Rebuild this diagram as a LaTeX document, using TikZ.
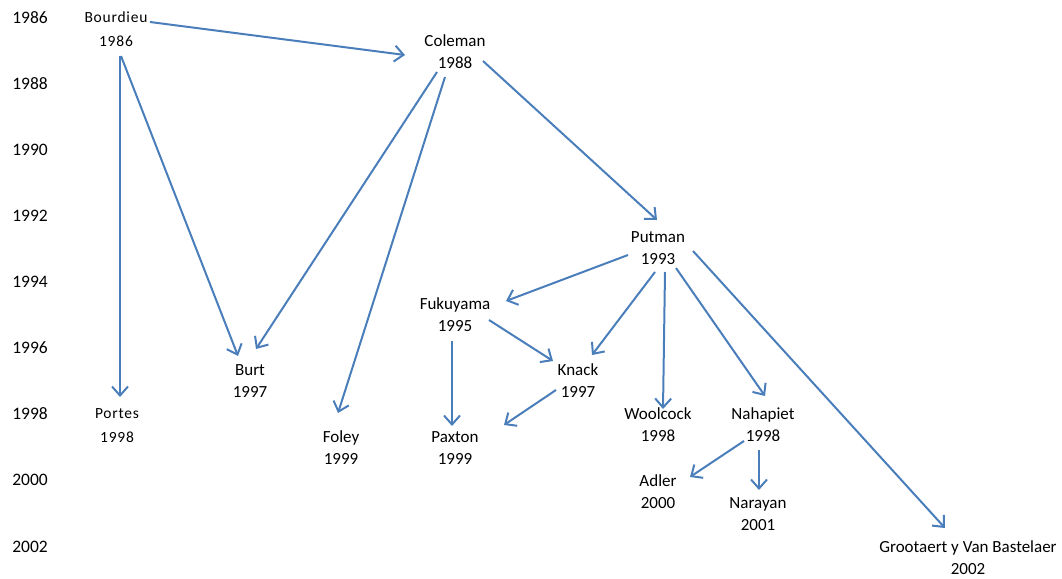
\documentclass[tikz,border=0pt]{standalone}
\usepackage{fontspec}
\setmainfont{Carlito}
\usetikzlibrary{arrows.meta}
\definecolor{arrowblue}{RGB}{74,126,187}
\tikzset{
  lbl/.style={align=center,inner sep=0pt,font=\fontsize{17}{22}\selectfont},
  smalllbl/.style={align=center,inner sep=0pt,font=\fontsize{15.5}{24}\selectfont\addfontfeature{LetterSpace=5}},
  yearlbl/.style={inner sep=0pt,font=\fontsize{17.5}{20}\selectfont},
  link/.style={draw=arrowblue,line width=2pt,-{Straight Barb[length=9pt,width=16pt]}}
}
\begin{document}
\begin{tikzpicture}[x=1pt,y=-1pt]
\path[use as bounding box] (0,0) rectangle (1062,578);
% year axis
\node[yearlbl] (y1986) at (30,18) {1986};
\node[yearlbl] (y1988) at (30,84) {1988};
\node[yearlbl] (y1990) at (30,150) {1990};
\node[yearlbl] (y1992) at (30,216) {1992};
\node[yearlbl] (y1994) at (30,282) {1994};
\node[yearlbl] (y1996) at (30,348) {1996};
\node[yearlbl] (y1998) at (30,414) {1998};
\node[yearlbl] (y2000) at (30,480) {2000};
\node[yearlbl] (y2002) at (30,547) {2002};
% authors
\node[smalllbl] (bourdieu) at (116,29) {Bourdieu\\1986};
\node[lbl] (coleman) at (455,51.5) {Coleman\\1988};
\node[lbl] (putman) at (658,248) {Putman\\1993};
\node[lbl] (fukuyama) at (455,315) {Fukuyama\\1995};
\node[lbl] (burt) at (250,381) {Burt\\1997};
\node[lbl] (knack) at (578,381) {Knack\\1997};
\node[smalllbl] (portes) at (117,425.5) {Portes\\1998};
\node[lbl] (foley) at (341,448) {Foley\\1999};
\node[lbl] (paxton) at (455,448) {Paxton\\1999};
\node[lbl] (woolcock) at (658,425) {Woolcock\\1998};
\node[lbl] (nahapiet) at (763,425) {Nahapiet\\1998};
\node[lbl] (adler) at (658,492) {Adler\\2000};
\node[lbl] (narayan) at (758,514) {Narayan\\2001};
\node[lbl] (grootaert) at (968,558) {Grootaert y Van Bastelaer\\2002};
% connectors
\draw[link] ([shift={(34,-7)}]bourdieu.center) -- ([shift={(-50,3.5)}]coleman.center);
\draw[link] ([shift={(4,27)}]bourdieu.center) -- ([shift={(3,-28.5)}]portes.center);
\draw[link] ([shift={(5,27)}]bourdieu.center) -- ([shift={(-12,-25)}]burt.center);
\draw[link] ([shift={(-18,20.5)}]coleman.center) -- ([shift={(6,-32)}]burt.center);
\draw[link] ([shift={(-10,25.5)}]coleman.center) -- ([shift={(-3,-35)}]foley.center);
\draw[link] ([shift={(28,9.5)}]coleman.center) -- ([shift={(-1,-28)}]putman.center);
\draw[link] ([shift={(-30,7)}]putman.center) -- ([shift={(51,-14)}]fukuyama.center);
\draw[link] ([shift={(-3,24)}]putman.center) -- ([shift={(14,-26)}]knack.center);
\draw[link] ([shift={(7,24)}]putman.center) -- ([shift={(5,-16)}]woolcock.center);
\draw[link] ([shift={(18,20)}]putman.center) -- ([shift={(2,-29)}]nahapiet.center);
\draw[link] ([shift={(35,3)}]putman.center) -- ([shift={(-23,-30)}]grootaert.center);
\draw[link] ([shift={(34,5)}]fukuyama.center) -- ([shift={(-25,-20)}]knack.center);
\draw[link] ([shift={(-3,26)}]fukuyama.center) -- ([shift={(-3,-22)}]paxton.center);
\draw[link] ([shift={(-22,9)}]knack.center) -- ([shift={(49,-23)}]paxton.center);
\draw[link] ([shift={(-19,16)}]nahapiet.center) -- ([shift={(32,-15)}]adler.center);
\draw[link] ([shift={(-4,25)}]nahapiet.center) -- ([shift={(1,-24)}]narayan.center);
\end{tikzpicture}
\end{document}
